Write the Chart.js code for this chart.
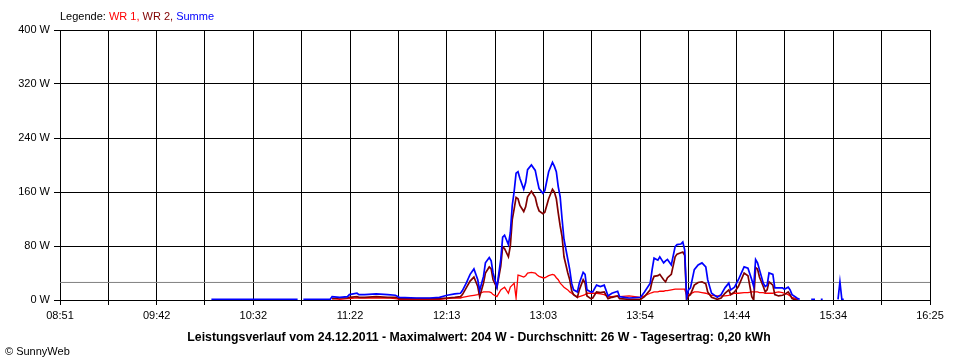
<!DOCTYPE html>
<html lang="de">
<head>
<meta charset="utf-8">
<title>Leistungsverlauf 24.12.2011</title>
<script src="https://cdn.jsdelivr.net/npm/chart.js@4"></script>
<style>
  html, body { margin: 0; padding: 0; background: #fff; }
</style>
</head>
<body>
<canvas id="grafik" width="960" height="360"></canvas>
<script>
// Messzeitpunkte und Leistung in W
const zeiten = [
  '10:10','10:20','10:30','10:40','10:50','10:55','10:56','10:58','11:05','11:12',
  '11:13','11:17','11:21','11:22','11:26','11:27','11:30','11:36','11:42','11:46',
  '11:48','11:57','12:04','12:09','12:13','12:17','12:20','12:21','12:23','12:25',
  '12:27','12:29','12:30','12:32','12:33','12:35','12:36','12:37','12:39','12:41',
  '12:42','12:43','12:45','12:46','12:47','12:48','12:49','12:50','12:51','12:53',
  '12:54','12:55','12:57','12:59','13:00','13:01','13:03','13:04','13:06','13:08',
  '13:09','13:10','13:11','13:12','13:13','13:14','13:16','13:17','13:18','13:19',
  '13:21','13:22','13:24','13:25','13:26','13:28','13:29','13:31','13:33','13:35',
  '13:37','13:39','13:42','13:43','13:48','13:54','13:56','13:59','14:00','14:01',
  '14:03','14:04','14:06','14:07','14:08','14:10','14:12','14:13','14:15','14:16',
  '14:17','14:18','14:19','14:20','14:22','14:24','14:26','14:28','14:29','14:31',
  '14:34','14:36','14:38','14:40','14:41','14:43','14:45','14:48','14:50','14:52',
  '14:53','14:54','14:55','14:56','14:58','14:59','15:00','15:01','15:03','15:04',
  '15:06','15:08','15:09','15:11','15:12','15:13','15:15','15:16','15:17','15:20',
  '15:23','15:25','15:26','15:28','15:29','15:30','15:37','15:38','15:39','15:40'
];

const wr1 = [
  null,null,null,null,null,null,null,null,null,null,
  2,1,2,2,3,3,3,3,3,2,
  1,1,1,1,2,3,3,4,5,6,
  7,8,10,12,12,12,11,8,5,15,
  17,19,10,19,22,25,3,37,36,34,
  36,40,41,40,37,35,33,33,36,38,
  37,33,30,25,22,19,15,12,10,8,
  4,5,7,8,10,10,10,10,9,8,
  5,5,6,5,6,4,6,10,11,12,
  12,13,13,14,14,15,16,16,16,16,
  16,7,8,9,12,12,11,10,9,7,
  6,6,6,7,8,10,10,11,11,12,
  12,12,12,11,11,10,10,10,10,11,
  12,11,10,8,6,4,2,0,null,null,
  null,null,null,null,null,null,null,null,null,null
];

const wr2 = [
  null,null,null,null,null,null,null,null,null,null,
  2,3,3,4,5,4,4,5,4,4,
  2,2,2,2,3,4,5,8,18,28,
  34,20,5,25,40,49,46,30,18,50,
  79,76,64,80,119,135,152,150,140,131,
  138,153,161,152,140,132,128,130,150,164,
  160,150,129,110,94,64,40,30,14,8,
  4,15,30,25,6,2,3,12,11,12,
  2,4,6,2,1,1,5,15,28,35,
  36,38,30,27,33,38,64,68,70,71,
  66,0,6,8,22,26,27,24,12,4,
  1,3,10,15,8,12,20,40,36,5,
  0,48,46,34,20,12,15,27,22,8,
  6,7,8,12,8,2,0,0,null,null,
  null,null,null,null,null,null,null,null,null,null
];

const summe = [
  1,1,1,1,1,1,null,1,1,1,
  5,4,5,8,10,8,8,9,8,7,
  4,3,3,4,7,9,10,14,25,38,
  46,30,14,35,55,63,58,40,19,60,
  93,96,82,100,140,161,188,190,180,164,
  174,193,200,192,178,165,158,162,190,204,
  198,190,168,153,120,90,60,45,25,15,
  12,25,41,38,15,12,12,22,20,22,
  6,10,13,5,3,4,12,25,45,62,
  59,64,55,58,60,52,79,82,83,86,
  74,4,15,18,45,52,55,49,30,10,
  4,8,18,25,15,19,30,49,47,30,
  20,60,55,45,25,20,22,40,38,18,
  18,18,16,19,15,8,4,2,1,null,
  1,1,null,1,1,null,1,27,1,1
];

const zeitLabels = ['08:51','09:42','10:32','11:22','12:13','13:03','13:54','14:44','15:34','16:25'];
const yMax = 400;
const yStep = 80;
const durchschnitt = 26;
const titel = 'Leistungsverlauf vom 24.12.2011 - Maximalwert: 204 W - Durchschnitt: 26 W - Tagesertrag: 0,20 kWh';

const schrift = '"Liberation Sans", Arial, sans-serif';

function minuten(t) {
  const [h, m] = t.split(':').map(Number);
  return h * 60 + m;
}

const xMin = minuten(zeitLabels[0]);
const xMax = minuten(zeitLabels[zeitLabels.length - 1]);
const schritte = (zeitLabels.length - 1) * 2; // Gitterlinie zwischen zwei Beschriftungen

function punkte(werte) {
  return zeiten.map((t, i) => ({ x: minuten(t), y: werte[i] }));
}

const kurven = [
  { label: 'Summe', werte: summe, farbe: '#0000ff', breite: 1.7 },
  { label: 'WR 2', werte: wr2, farbe: '#800000', breite: 1.7 },
  { label: 'WR 1', werte: wr1, farbe: '#ff0000', breite: 1.3 }
];

const datasets = kurven.map((k, i) => ({
  label: k.label,
  data: punkte(k.werte),
  borderColor: k.farbe,
  borderWidth: k.breite,
  pointRadius: 0,
  tension: 0,
  fill: false,
  spanGaps: false,
  order: i + 1
}));

// graue Linie für den Durchschnitt
datasets.push({
  label: 'Durchschnitt',
  data: [{ x: xMin, y: durchschnitt }, { x: xMax, y: durchschnitt }],
  borderColor: '#808080',
  borderWidth: 1,
  pointRadius: 0,
  fill: false,
  order: 9
});

const beschriftung = {
  id: 'beschriftung',
  afterDraw(chart) {
    const ctx = chart.ctx;
    ctx.save();
    ctx.textBaseline = 'alphabetic';

    // Legende oben links
    const teile = [
      { text: 'Legende: ', farbe: '#000000' },
      { text: 'WR 1, ', farbe: '#ff0000' },
      { text: 'WR 2, ', farbe: '#800000' },
      { text: 'Summe', farbe: '#0000ff' }
    ];
    ctx.font = '11px ' + schrift;
    let x = chart.chartArea.left;
    teile.forEach(t => {
      ctx.fillStyle = t.farbe;
      ctx.textAlign = 'left';
      ctx.fillText(t.text, x, 20);
      x += ctx.measureText(t.text).width;
    });

    // Titel unten
    ctx.font = 'bold 12.3px ' + schrift;
    ctx.fillStyle = '#000';
    ctx.textAlign = 'center';
    ctx.fillText(titel, 479, 341);

    ctx.font = '11px ' + schrift;
    ctx.textAlign = 'left';
    ctx.fillText('\u00a9 SunnyWeb', 5, 355);
    ctx.restore();
  }
};

new Chart(document.getElementById('grafik'), {
  type: 'line',
  data: { datasets: datasets },
  options: {
    responsive: false,
    animation: false,
    layout: { padding: { top: 30, right: 30, left: 0, bottom: 0 } },
    plugins: {
      legend: { display: false },
      tooltip: { enabled: false }
    },
    scales: {
      x: {
        type: 'linear',
        min: xMin,
        max: xMax,
        afterBuildTicks: scale => {
          scale.ticks = [];
          for (let i = 0; i <= schritte; i++) {
            scale.ticks.push({ value: xMin + i * (xMax - xMin) / schritte });
          }
        },
        afterFit: scale => { scale.height = 60; },
        ticks: {
          autoSkip: false,
          maxRotation: 0,
          padding: 4,
          color: '#000',
          font: { family: schrift, size: 11 },
          callback: (v, i) => (i % 2 === 0 ? zeitLabels[i / 2] : '')
        },
        grid: { color: '#000', lineWidth: 1, tickLength: 5 },
        border: { color: '#000' }
      },
      y: {
        min: 0,
        max: yMax,
        afterFit: scale => { scale.width = 60; },
        ticks: {
          stepSize: yStep,
          padding: 4,
          color: '#000',
          font: { family: schrift, size: 11 },
          callback: v => v + ' W'
        },
        grid: { color: '#000', lineWidth: 1, tickLength: 6 },
        border: { color: '#000' }
      }
    }
  },
  plugins: [beschriftung]
});
</script>
</body>
</html>
